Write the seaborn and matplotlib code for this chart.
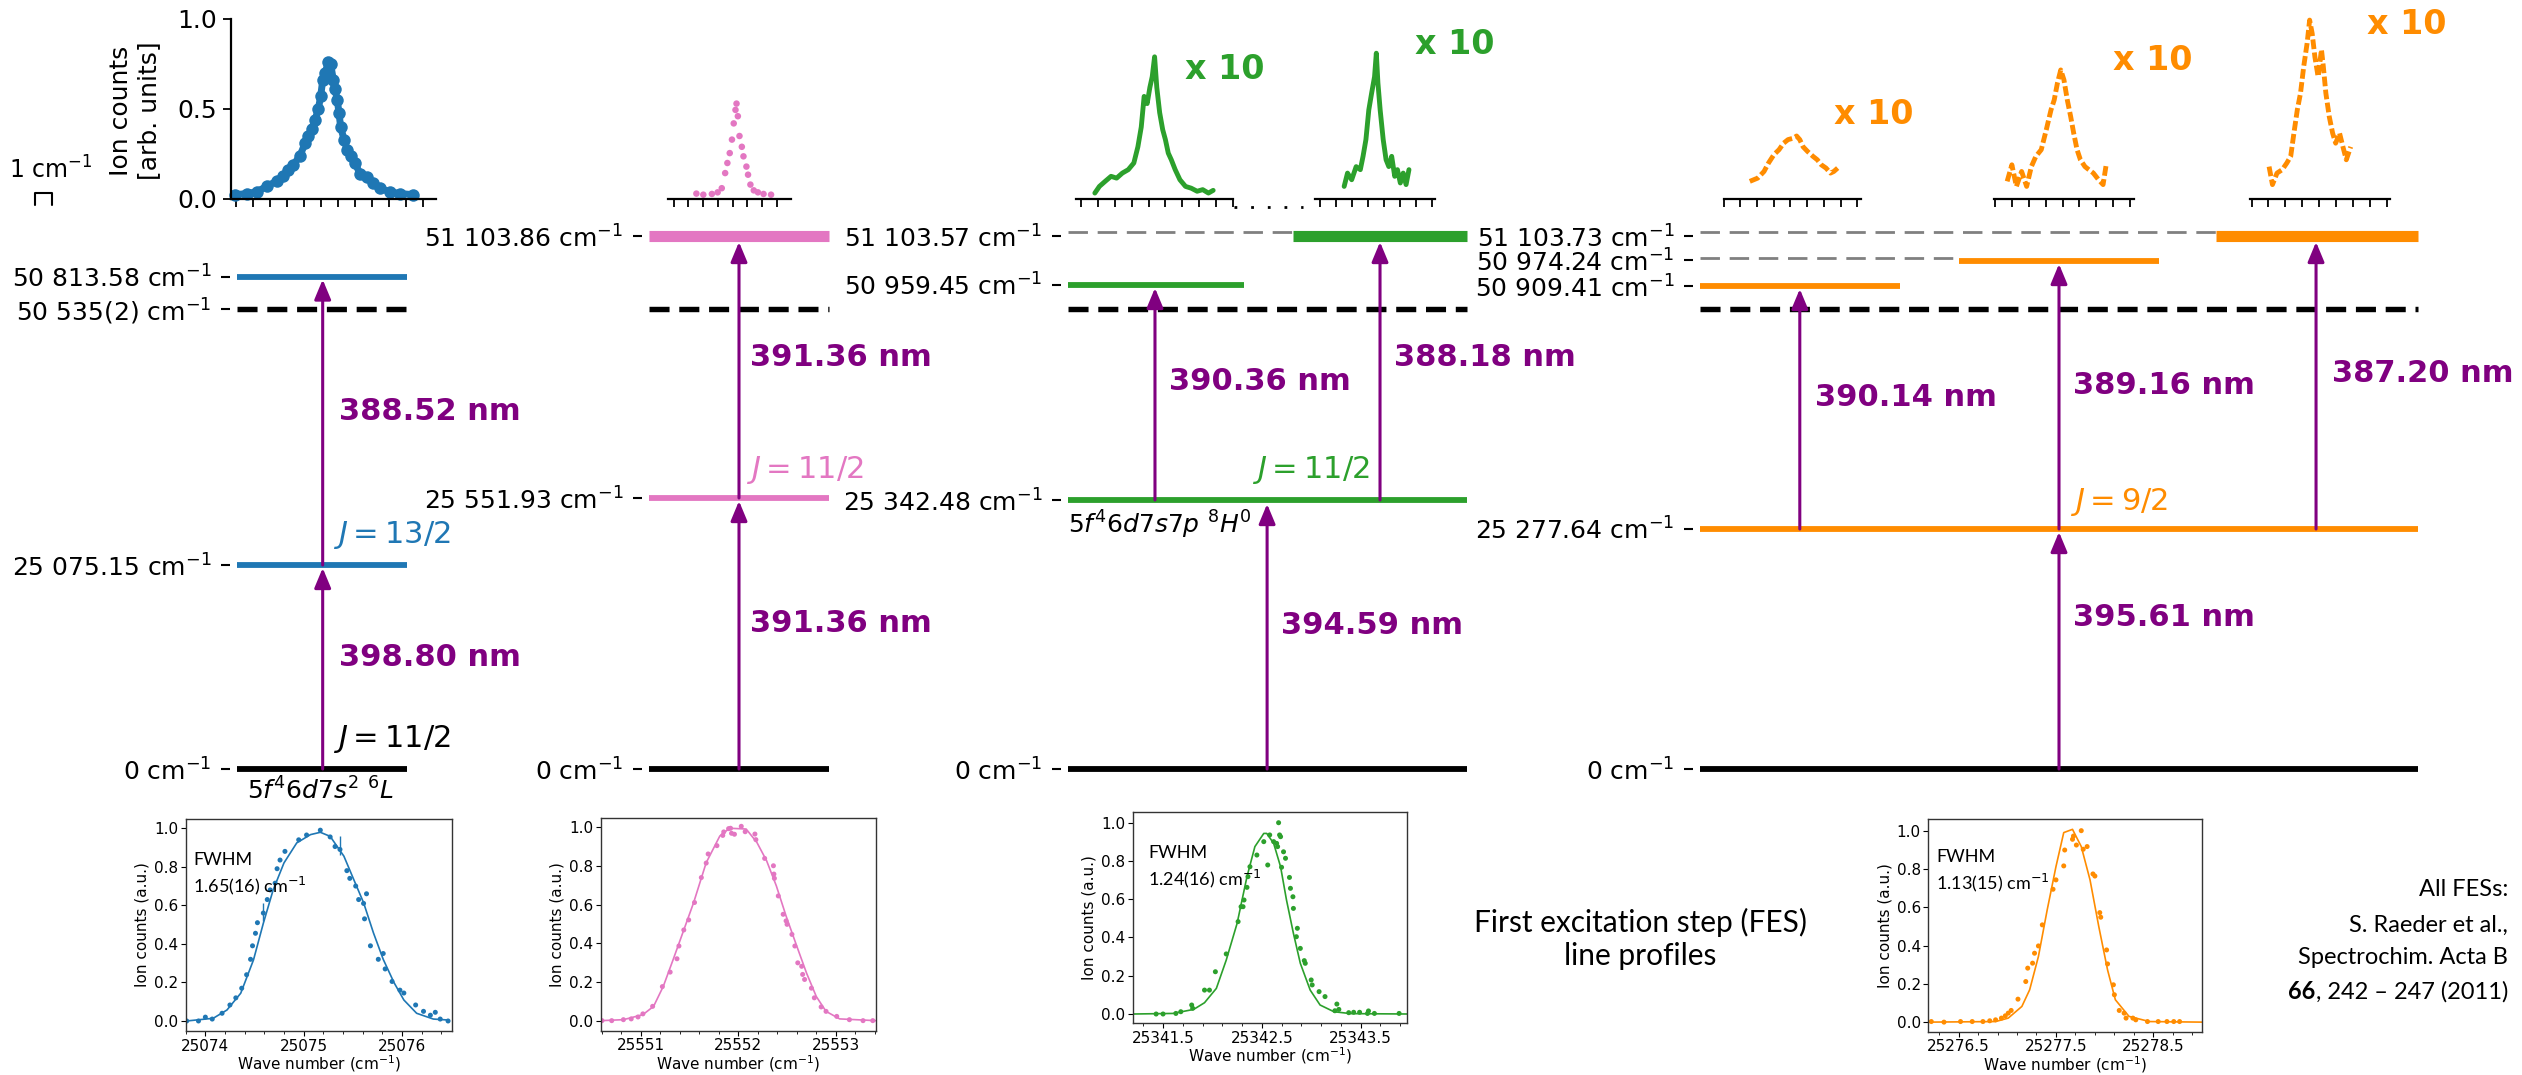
import numpy as np
import pandas as pd
import seaborn as sns
import matplotlib
matplotlib.use("Agg")
import matplotlib.pyplot as plt
from matplotlib.ticker import FixedLocator, NullFormatter

# ======================= DATA =======================
# --- top row: ionisation spectra (x in units of the 1 cm^-1 tick step) ---
blue_top_x = [-0.08, 0.61, 1.20, 1.79, 2.38, 2.78, 3.07, 3.37, 3.76, 4.06, 4.25, 4.45, 4.65, 4.84,
              4.98, 5.10, 5.24, 5.43, 5.57, 5.73, 5.83, 5.96, 6.06, 6.16, 6.36, 6.56, 6.75, 7.01,
              7.30, 7.70, 8.09, 8.48, 9.07, 9.67, 10.45]
blue_top_y = [0.024, 0.03, 0.04, 0.07, 0.10, 0.126, 0.16, 0.19, 0.24, 0.31, 0.35, 0.39, 0.44, 0.50,
              0.57, 0.66, 0.70, 0.76, 0.75, 0.66, 0.61, 0.55, 0.48, 0.40, 0.33, 0.27, 0.24, 0.20,
              0.14, 0.12, 0.09, 0.06, 0.04, 0.03, 0.024]

pink_top_x = [1.55, 2.02, 2.60, 2.99, 3.27, 3.50, 3.65, 3.81, 3.96, 4.08, 4.20, 4.27, 4.36, 4.47,
              4.63, 4.74, 4.94, 5.05, 5.21, 5.44, 5.72, 6.10, 6.61]
pink_top_y = [0.03, 0.024, 0.028, 0.037, 0.06, 0.144, 0.20, 0.255, 0.33, 0.42, 0.495, 0.53, 0.46,
              0.35, 0.29, 0.237, 0.18, 0.135, 0.08, 0.048, 0.037, 0.028, 0.024]

green1_top_x = [0.82, 1.09, 1.43, 1.78, 2.11, 2.45, 2.80, 3.13, 3.37, 3.57, 3.74, 3.92, 4.08, 4.22,
                4.36, 4.49, 4.66, 4.84, 5.00, 5.17, 5.35, 5.58, 5.86, 6.19, 6.53, 6.88, 7.21, 7.55, 7.83]
green1_top_y = [0.033, 0.07, 0.098, 0.126, 0.116, 0.144, 0.163, 0.20, 0.29, 0.40, 0.57, 0.53, 0.62,
                0.68, 0.79, 0.62, 0.48, 0.385, 0.33, 0.255, 0.218, 0.163, 0.107, 0.07, 0.06, 0.043,
                0.052, 0.033, 0.048]

green2_top_x = [1.51, 1.72, 1.98, 2.26, 2.52, 2.69, 2.87, 3.05, 3.23, 3.41, 3.52, 3.62, 3.76, 3.95,
                4.13, 4.30, 4.48, 4.67, 4.84, 5.02, 5.20, 5.38, 5.56]
green2_top_y = [0.07, 0.144, 0.107, 0.18, 0.163, 0.237, 0.33, 0.495, 0.59, 0.68, 0.81, 0.645, 0.495,
                0.33, 0.218, 0.18, 0.237, 0.126, 0.163, 0.089, 0.144, 0.08, 0.163]

orange1_top_x = [1.57, 2.04, 2.42, 2.69, 3.01, 3.32, 3.59, 3.86, 4.18, 4.37, 4.56, 4.76, 5.03, 5.35,
                 5.61, 5.85, 6.13, 6.40, 6.60, 6.83]
orange1_top_y = [0.098, 0.116, 0.153, 0.20, 0.246, 0.274, 0.31, 0.33, 0.338, 0.35, 0.33, 0.29, 0.264,
                 0.237, 0.218, 0.19, 0.172, 0.144, 0.153, 0.172]

orange2_top_x = [0.70, 0.98, 1.25, 1.56, 1.86, 2.14, 2.41, 2.73, 3.03, 3.31, 3.50, 3.69, 3.89, 4.08,
                 4.28, 4.48, 4.66, 4.86, 5.06, 5.33, 5.56, 5.83, 6.14, 6.41, 6.61]
orange2_top_y = [0.098, 0.19, 0.07, 0.153, 0.07, 0.18, 0.237, 0.274, 0.385, 0.495, 0.55, 0.643, 0.717,
                 0.662, 0.55, 0.458, 0.366, 0.274, 0.218, 0.18, 0.163, 0.144, 0.107, 0.08, 0.20]

orange3_top_x = [1.04, 1.24, 1.51, 1.82, 2.09, 2.32, 2.51, 2.71, 2.90, 3.09, 3.29, 3.44, 3.59, 3.75,
                 3.94, 4.14, 4.25, 4.40, 4.60, 4.80, 4.98, 5.21, 5.41, 5.61, 5.87]
orange3_top_y = [0.18, 0.08, 0.144, 0.163, 0.20, 0.237, 0.366, 0.495, 0.588, 0.736, 0.865, 0.994, 0.92,
                 0.79, 0.68, 0.83, 0.736, 0.588, 0.458, 0.366, 0.31, 0.366, 0.29, 0.218, 0.29]

# --- level energies (cm^-1) of the four schemes ---
scheme1_levels = ["0", "25 075.15", "50 535(2)", "50 813.58"]
scheme2_levels = ["0", "25 551.93", "51 103.86"]
scheme3_levels = ["0", "25 342.48", "50 959.45", "51 103.57"]
scheme4_levels = ["0", "25 277.64", "50 909.41", "50 974.24", "51 103.73"]

# --- transition wavelengths (nm) ---
scheme1_wl = ["398.80", "388.52"]
scheme2_wl = ["391.36", "391.36"]
scheme3_wl = ["394.59", "390.36", "388.18"]
scheme4_wl = ["395.61", "390.14", "389.16", "387.20"]

# --- total angular momenta ---
ground_J = "11/2"
fes_J = ["13/2", "11/2", "11/2", "9/2"]
ground_config = r"$5f^4 6d7s^2\ {}^6L$"
fes3_config = r"$5f^4 6d7s7p\ {}^8H^0$"

# --- FES line profiles (bottom insets) ---
fes1_pts_x = [25073.81, 25073.93, 25074.00, 25074.07, 25074.17, 25074.25, 25074.31, 25074.37, 25074.42,
              25074.46, 25074.48, 25074.51, 25074.53, 25074.59, 25074.63, 25074.66, 25074.71, 25074.73,
              25074.76, 25074.81, 25074.95, 25075.03, 25075.17, 25075.27, 25075.32, 25075.37, 25075.44,
              25075.47, 25075.53, 25075.56, 25075.61, 25075.64, 25075.62, 25075.68, 25075.76, 25075.81,
              25075.83, 25075.90, 25075.98, 25076.02, 25076.14, 25076.22, 25076.29, 25076.34, 25076.39,
              25076.47]
fes1_pts_y = [0.0, 0.0, 0.02, 0.01, 0.04, 0.083, 0.12, 0.17, 0.24, 0.32, 0.39, 0.455, 0.51, 0.56, 0.63,
              0.68, 0.715, 0.79, 0.835, 0.88, 0.94, 0.965, 0.99, 0.955, 0.905, 0.89, 0.78, 0.74, 0.70,
              0.63, 0.61, 0.66, 0.53, 0.39, 0.32, 0.35, 0.27, 0.205, 0.16, 0.145, 0.083, 0.05, 0.03,
              0.045, 0.01, 0.0]
fes1_err_x = [25074.59, 25075.37]
fes1_err_y = [0.565, 0.91]
fes1_err = [0.045, 0.05]
fes1_fit_x = [25073.81, 25074.08, 25074.22, 25074.36, 25074.49, 25074.59, 25074.69, 25074.80, 25074.93,
              25075.07, 25075.17, 25075.27, 25075.41, 25075.51, 25075.61, 25075.71, 25075.81, 25075.92,
              25076.02, 25076.15, 25076.32, 25076.47]
fes1_fit_y = [0.0, 0.014, 0.057, 0.144, 0.317, 0.507, 0.680, 0.820, 0.924, 0.967, 0.979, 0.958, 0.855,
              0.734, 0.614, 0.458, 0.32, 0.199, 0.109, 0.040, 0.010, 0.005]

fes2_pts_x = [25550.60, 25550.70, 25550.82, 25550.90, 25550.97, 25551.02, 25551.12, 25551.22, 25551.30,
              25551.37, 25551.39, 25551.44, 25551.49, 25551.55, 25551.62, 25551.67, 25551.69, 25551.78,
              25551.84, 25551.85, 25551.90, 25551.92, 25551.93, 25551.96, 25552.03, 25552.07, 25552.17,
              25552.18, 25552.27, 25552.36, 25552.365, 25552.37, 25552.41, 25552.46, 25552.49, 25552.50,
              25552.55, 25552.58, 25552.61, 25552.65, 25552.66, 25552.68, 25552.75, 25552.78, 25552.85,
              25552.90, 25553.01, 25553.14, 25553.28, 25553.38]
fes2_pts_y = [0.0, 0.0, 0.005, 0.009, 0.019, 0.035, 0.074, 0.176, 0.251, 0.320, 0.386, 0.469, 0.521,
              0.611, 0.740, 0.815, 0.862, 0.905, 0.958, 0.976, 0.993, 0.995, 0.969, 0.964, 1.005, 0.977,
              0.965, 0.936, 0.839, 0.801, 0.758, 0.736, 0.645, 0.550, 0.516, 0.498, 0.446, 0.386, 0.299,
              0.281, 0.239, 0.213, 0.168, 0.118, 0.071, 0.048, 0.022, 0.005, 0.0, 0.0]
fes2_fit_x = [25550.59, 25550.82, 25551.02, 25551.13, 25551.23, 25551.33, 25551.43, 25551.54, 25551.67,
              25551.81, 25551.91, 25552.08, 25552.19, 25552.29, 25552.39, 25552.49, 25552.60, 25552.70,
              25552.80, 25552.90, 25553.04, 25553.41]
fes2_fit_y = [0.0, 0.005, 0.031, 0.074, 0.178, 0.315, 0.455, 0.609, 0.817, 0.955, 0.995, 0.991, 0.922,
              0.827, 0.697, 0.541, 0.385, 0.246, 0.125, 0.048, 0.009, 0.0]

fes3_pts_x = [25341.43, 25341.50, 25341.63, 25341.68, 25341.79, 25341.80, 25341.92, 25341.97, 25342.03,
              25342.14, 25342.26, 25342.29, 25342.31, 25342.32, 25342.35, 25342.36, 25342.38, 25342.45,
              25342.52, 25342.56, 25342.58, 25342.62, 25342.65, 25342.66, 25342.67, 25342.68, 25342.69,
              25342.70, 25342.72, 25342.74, 25342.78, 25342.79, 25342.815, 25342.82, 25342.85, 25342.86,
              25342.89, 25342.93, 25342.94, 25343.00, 25343.01, 25343.08, 25343.14, 25343.24, 25343.26,
              25343.28, 25343.38, 25343.43, 25343.49, 25343.57, 25343.58, 25343.64, 25343.89]
fes3_pts_y = [0.0, 0.0, 0.003, 0.012, 0.047, 0.030, 0.125, 0.125, 0.221, 0.314, 0.483, 0.561, 0.561,
              0.596, 0.662, 0.718, 0.770, 0.831, 0.901, 0.779, 0.936, 0.901, 0.892, 0.875, 1.0, 0.936,
              0.927, 0.767, 0.848, 0.814, 0.714, 0.657, 0.613, 0.552, 0.404, 0.448, 0.343, 0.279, 0.265,
              0.178, 0.152, 0.117, 0.091, 0.017, 0.052, 0.024, 0.007, 0.009, 0.009, 0.003, 0.016, 0.003,
              0.003]
fes3_fit_x = [25341.20, 25341.60, 25341.81, 25341.92, 25342.04, 25342.14, 25342.25, 25342.35, 25342.43,
              25342.52, 25342.55, 25342.62, 25342.69, 25342.75, 25342.82, 25342.89, 25342.99, 25343.09,
              25343.23, 25343.40, 25343.98]
fes3_fit_y = [0.0, 0.003, 0.024, 0.059, 0.134, 0.282, 0.474, 0.718, 0.875, 0.944, 0.944, 0.892, 0.770,
              0.596, 0.422, 0.265, 0.125, 0.047, 0.012, 0.002, 0.0]

fes4_pts_x = [25276.22, 25276.35, 25276.52, 25276.64, 25276.75, 25276.82, 25276.88, 25276.94, 25276.98,
              25277.01, 25277.04, 25277.11, 25277.19, 25277.21, 25277.26, 25277.28, 25277.32, 25277.36,
              25277.47, 25277.50, 25277.58, 25277.59, 25277.67, 25277.68, 25277.71, 25277.76, 25277.78,
              25277.82, 25277.88, 25277.90, 25277.95, 25277.96, 25278.02, 25278.03, 25278.09, 25278.10,
              25278.15, 25278.20, 25278.22, 25278.29, 25278.32, 25278.44, 25278.55, 25278.64, 25278.71,
              25278.77]
fes4_pts_y = [0.003, 0.0, 0.003, 0.003, 0.003, 0.007, 0.012, 0.021, 0.033, 0.047, 0.061, 0.120, 0.212,
              0.282, 0.308, 0.360, 0.398, 0.508, 0.694, 0.743, 0.816, 0.899, 0.955, 0.972, 0.925, 1.0,
              0.903, 0.917, 0.774, 0.763, 0.572, 0.548, 0.377, 0.304, 0.195, 0.143, 0.061, 0.047, 0.021,
              0.021, 0.012, 0.003, 0.003, 0.003, 0.003, 0.003]
fes4_fit_x = [25276.19, 25276.88, 25277.01, 25277.15, 25277.23, 25277.32, 25277.41, 25277.50, 25277.58,
              25277.67, 25277.76, 25277.85, 25277.94, 25278.03, 25278.11, 25278.25, 25278.46, 25279.00]
fes4_fit_y = [0.0, 0.003, 0.021, 0.082, 0.169, 0.343, 0.586, 0.812, 0.990, 1.007, 0.917, 0.743, 0.499,
              0.273, 0.117, 0.030, 0.003, 0.0]

fwhm_values = ["1.65(16)", "1.24(16)", "1.13(15)"]

# ======================= STYLE =======================
sns.set_theme(style="ticks", rc={
    "axes.edgecolor": "black", "text.color": "black", "axes.labelcolor": "black",
    "xtick.color": "black", "ytick.color": "black",
})
plt.rcParams["font.family"] = ["DejaVu Sans"]
plt.rcParams["mathtext.fontset"] = "dejavusans"

BLUE, PINK, GREEN, ORANGE = "#1f77b4", "#e377c2", "#2ca02c", "#ff8c00"
PURPLE, GREY = "#800080", "#808080"
CAL = ["Lato", "DejaVu Sans"]

W, H = 2522, 1075
fig = plt.figure(figsize=(W / 100, H / 100), dpi=100)
fig.patch.set_facecolor("white")


def px_axes(left, right, top, bottom):
    return fig.add_axes([left / W, 1 - bottom / H, (right - left) / W, (bottom - top) / H])


def ftext(x, y, s, **kw):
    return fig.text(x / W, 1 - y / H, s, **kw)


# ======================= LEVEL SCHEMES =======================
GROUND, DTOP, DBOT = 769, 215, 785
IP_H = 460


def scheme_axes(x0, x1, ticks, labels, pad=7):
    ax = px_axes(x0 - pad, x1 + pad, DTOP, DBOT)
    w = x1 - x0
    ax.set_xlim(-pad / w, 1 + pad / w)
    ax.set_ylim(GROUND - DBOT, GROUND - DTOP)
    ax.patch.set_alpha(0)
    for sp in ax.spines.values():
        sp.set_visible(False)
    ax.xaxis.set_visible(False)
    ax.set_yticks(ticks)
    ax.set_yticklabels([f"{e} cm$^{{-1}}$" for e in labels])
    ax.tick_params(axis="y", left=True, length=6.5, width=1.5, pad=7, labelsize=18, direction="out")
    return ax


def level(ax, h, a, b, color, lw=4.2, ls="-"):
    ax.plot([a, b], [h, h], color=color, lw=lw, ls=ls, solid_capstyle="butt", dash_capstyle="butt")


def ip_line(ax):
    level(ax, IP_H, 0, 1, "black", lw=3.9, ls=(0, (3.7, 1.8)))


def grey_line(ax, h, a, b):
    level(ax, h, a, b, GREY, lw=2.0, ls=(0, (7, 3.5)))


def arrow(ax, x, h0, h1):
    ax.annotate("", xy=(x, h1), xytext=(x, h0),
                arrowprops=dict(arrowstyle="-|>,head_length=0.6,head_width=0.25", color=PURPLE,
                                lw=2.2, shrinkA=0, shrinkB=0, mutation_scale=20))


def wl(ax, x, h, s):
    ax.text(x, h, f"{s} nm", color=PURPLE, fontsize=22, fontweight="bold", ha="left", va="center")


def jtext(ax, x, h, s, color):
    ax.text(x, h, f"$J = {s}$", color=color, fontsize=22, ha="left", va="center")


# scheme 1 (blue)
ax1 = scheme_axes(237, 407, [0, 204, 460, 492.5], scheme1_levels)
ip_line(ax1)
level(ax1, 0, 0, 1, "black")
level(ax1, 204, 0, 1, BLUE)
level(ax1, 492.5, 0, 1, BLUE)
arrow(ax1, 0.504, 0, 201)
arrow(ax1, 0.504, 204, 489.5)
wl(ax1, 0.60, 112, scheme1_wl[0])
wl(ax1, 0.60, 358, scheme1_wl[1])
jtext(ax1, 0.565, 234, fes_J[0], BLUE)
jtext(ax1, 0.565, 30, ground_J, "black")
ax1.text(0.06, -22, ground_config, fontsize=18, ha="left", va="center")

# scheme 2 (pink)
ax2 = scheme_axes(649, 829, [0, 271, 533], scheme2_levels)
ip_line(ax2)
level(ax2, 0, 0, 1, "black")
level(ax2, 271, 0, 1, PINK)
level(ax2, 533, 0, 1, PINK, lw=8)
arrow(ax2, 0.5, 0, 268)
arrow(ax2, 0.5, 271, 527)
wl(ax2, 0.56, 146, scheme2_wl[0])
wl(ax2, 0.56, 412, scheme2_wl[1])
jtext(ax2, 0.54, 299, fes_J[1], PINK)

# scheme 3 (green)
ax3 = scheme_axes(1068, 1467, [0, 269, 484, 533], scheme3_levels)
grey_line(ax3, 537, 0, 0.564)
ip_line(ax3)
level(ax3, 0, 0, 1, "black")
level(ax3, 269, 0, 1, GREEN)
level(ax3, 484, 0, 0.44, GREEN)
level(ax3, 533, 0.564, 1, GREEN, lw=8)
arrow(ax3, 0.499, 0, 265)
arrow(ax3, 0.218, 269, 481)
arrow(ax3, 0.782, 269, 527)
wl(ax3, 0.535, 144, scheme3_wl[0])
wl(ax3, 0.253, 387, scheme3_wl[1])
wl(ax3, 0.817, 411, scheme3_wl[2])
jtext(ax3, 0.46, 299, fes_J[2], GREEN)
ax3.text(0.0, 244, fes3_config, fontsize=18, ha="left", va="center")

# scheme 4 (orange)
ax4 = scheme_axes(1700, 2418, [0, 240, 483, 509, 533], scheme4_levels)
grey_line(ax4, 537, 0, 0.719)
grey_line(ax4, 511.5, 0, 0.361)
ip_line(ax4)
level(ax4, 0, 0, 1, "black")
level(ax4, 240, 0, 1, ORANGE)
level(ax4, 483, 0, 0.279, ORANGE)
level(ax4, 508, 0.361, 0.639, ORANGE)
level(ax4, 533, 0.719, 1, ORANGE, lw=8)
arrow(ax4, 0.5, 0, 237)
arrow(ax4, 0.139, 240, 480)
arrow(ax4, 0.5, 240, 505)
arrow(ax4, 0.858, 240, 527)
wl(ax4, 0.52, 151, scheme4_wl[0])
wl(ax4, 0.16, 372, scheme4_wl[1])
wl(ax4, 0.519, 384, scheme4_wl[2])
wl(ax4, 0.88, 396, scheme4_wl[3])
jtext(ax4, 0.515, 267, fes_J[3], ORANGE)

# ======================= TOP SPECTRA =======================
SP_TOP, SP_BOT = 19, 199


def top_axes(left, right, first_tick, step, nticks, yaxis=False):
    ax = px_axes(left, right, SP_TOP, SP_BOT)
    ax.set_xlim((left - first_tick) / step, (right - first_tick) / step)
    ax.set_ylim(0, 1)
    ax.patch.set_alpha(0)
    sns.despine(ax=ax, left=not yaxis)
    ax.xaxis.set_major_locator(FixedLocator(list(range(nticks))))
    ax.xaxis.set_major_formatter(NullFormatter())
    ax.tick_params(axis="x", length=6, width=1.3, direction="out")
    ax.spines["bottom"].set_linewidth(1.6)
    if yaxis:
        ax.spines["left"].set_linewidth(1.6)
        ax.yaxis.set_major_locator(FixedLocator([0, 0.5, 1.0]))
        ax.tick_params(axis="y", length=6, width=1.3, labelsize=18, pad=4)
    else:
        ax.yaxis.set_visible(False)
    return ax


def noclip(ax):
    for a in list(ax.lines) + list(ax.collections):
        a.set_clip_on(False)


tb = top_axes(231, 436, 236.3, 16.94, 12, yaxis=True)
sns.lineplot(x=blue_top_x, y=blue_top_y, ax=tb, color=BLUE, lw=5, marker="o", markersize=9,
             markeredgewidth=0, estimator=None, sort=False)
tb.text(-0.468, 0.49, "Ion counts\n[arb. units]", transform=tb.transAxes, rotation=90,
        ha="center", va="center", fontsize=18, multialignment="center")
# 1 cm^-1 scale bar
tb.plot([-11.88, -11.88, -10.88, -10.88], [-0.033, 0.033, 0.033, -0.033], color="black", lw=1.5,
        clip_on=False)
tb.text(-10.94, 0.16, "1 cm$^{-1}$", fontsize=17, ha="center", va="center")
noclip(tb)

tp = top_axes(667.7, 790.6, 673.5, 14.76, 8)
sns.scatterplot(x=pink_top_x, y=pink_top_y, ax=tp, color=PINK, s=22, edgecolor="none")
noclip(tp)

tg1 = top_axes(1076.4, 1233, 1081, 16.88, 10)
sns.lineplot(x=green1_top_x, y=green1_top_y, ax=tg1, color=GREEN, lw=3.5, estimator=None, sort=False)
tg1.plot([9.06, 13.15], [-0.043, -0.043], color="black", lw=2, ls=(0, (1, 5)), clip_on=False)
tg1.text(6.19, 0.717, "x 10", color=GREEN, fontsize=24, fontweight="bold", ha="left", va="center")
noclip(tg1)

tg2 = top_axes(1314.6, 1435, 1320, 16.0, 8)
sns.lineplot(x=green2_top_x, y=green2_top_y, ax=tg2, color=GREEN, lw=3.5, estimator=None, sort=False)
tg2.text(5.91, 0.856, "x 10", color=GREEN, fontsize=24, fontweight="bold", ha="left", va="center")
noclip(tg2)

for (l, r, ft, st, xs, ys, tx, ty) in [
        (1723.6, 1860.5, 1723.6, 16.7, orange1_top_x, orange1_top_y, 6.6, 0.467),
        (1994.0, 2133.6, 1995.4, 16.8, orange2_top_x, orange2_top_y, 6.99, 0.772),
        (2249.6, 2389.7, 2251.5, 16.9, orange3_top_x, orange3_top_y, 6.83, 0.967)]:
    to = top_axes(l, r, ft, st, 9)
    sns.lineplot(x=xs, y=ys, ax=to, color=ORANGE, lw=3.5, ls=(0, (2.0, 0.7)),
                 estimator=None, sort=False)
    to.text(tx, ty, "x 10", color=ORANGE, fontsize=24, fontweight="bold", ha="left", va="center")
    noclip(to)

# ======================= FES LINE PROFILES =======================


def inset(left, right, top, bottom, xlim, ylim, majors, minors):
    ax = px_axes(left, right, top, bottom)
    ax.set_xlim(*xlim)
    ax.set_ylim(*ylim)
    for sp in ax.spines.values():
        sp.set_linewidth(1.0)
        sp.set_color("#333333")
    ax.xaxis.set_major_locator(FixedLocator(majors))
    ax.xaxis.set_minor_locator(FixedLocator(minors))
    ax.yaxis.set_major_locator(FixedLocator([0, 0.2, 0.4, 0.6, 0.8, 1.0]))
    ax.ticklabel_format(useOffset=False, style="plain", axis="x")
    ax.tick_params(axis="both", which="major", labelsize=11, length=3.5, width=0.8, pad=2)
    ax.tick_params(axis="x", which="minor", length=2, width=0.6)
    ax.set_xlabel("Wave number (cm$^{-1}$)", fontsize=11, labelpad=0)
    ax.set_ylabel("Ion counts (a.u.)", fontsize=11, labelpad=3)
    return ax


insets = [
    (185.7, 452.0, 819, 1031, (25073.80, 25076.51), (-0.052, 1.048), [25074, 25075, 25076],
     np.arange(25073.8, 25076.6, 0.2), fes1_pts_x, fes1_pts_y, fes1_fit_x, fes1_fit_y, BLUE),
    (601.0, 875.7, 818, 1030.7, (25550.59, 25553.41), (-0.052, 1.048), [25551, 25552, 25553],
     np.arange(25550.6, 25553.5, 0.2), fes2_pts_x, fes2_pts_y, fes2_fit_x, fes2_fit_y, PINK),
    (1133.0, 1407.0, 812, 1023, (25341.196, 25343.97), (-0.047, 1.056), [25341.5, 25342.5, 25343.5],
     np.arange(25341.3, 25344.0, 0.2), fes3_pts_x, fes3_pts_y, fes3_fit_x, fes3_fit_y, GREEN),
    (1928.4, 2202.0, 819, 1031.7, (25276.19, 25279.0), (-0.05, 1.061), [25276.5, 25277.5, 25278.5],
     np.arange(25276.3, 25279.0, 0.2), fes4_pts_x, fes4_pts_y, fes4_fit_x, fes4_fit_y, ORANGE),
]
for (l, r, t, b, xl, yl, mj, mn, px_, py_, fx, fy, c) in insets:
    ax = inset(l, r, t, b, xl, yl, mj, mn)
    sns.lineplot(x=fx, y=fy, ax=ax, color=c, lw=1.2, estimator=None, sort=False)
    sns.scatterplot(x=px_, y=py_, ax=ax, color=c, s=13, edgecolor="none")
    if c == BLUE:
        ax.errorbar(fes1_err_x, fes1_err_y, yerr=fes1_err, fmt="none", ecolor=BLUE, elinewidth=1.0)

for (x, y, v) in [(193, 860, fwhm_values[0]), (1148, 853, fwhm_values[1]), (1936, 857, fwhm_values[2])]:
    ftext(x, y, "FWHM", family=CAL, fontsize=13, ha="left", va="center")
    ftext(x, y + 26, f"{v} cm$^{{-1}}$", family=CAL, fontsize=13, ha="left", va="center")

# ======================= TEXT BLOCKS =======================
ftext(1640, 939, "First excitation step (FES)\nline profiles", family=CAL, fontsize=21.5,
      ha="center", va="center", multialignment="center", linespacing=1.25)

ftext(2508, 890, "All FESs:", family=CAL, fontsize=17, ha="right", va="center")
ftext(2508, 925, "S. Raeder et al.,", family=CAL, fontsize=17, ha="right", va="center")
ftext(2508, 958, "Spectrochim. Acta B", family=CAL, fontsize=17, ha="right", va="center")
last = ftext(2508, 992, ", 242 \u2013 247 (2011)", family=CAL, fontsize=17, ha="right", va="center")
ax1.annotate("66", xy=(0, 0), xycoords=last, ha="right", va="bottom", family=CAL, fontsize=17,
             fontweight="bold", annotation_clip=False)

fig.savefig("out.png", dpi=100)
